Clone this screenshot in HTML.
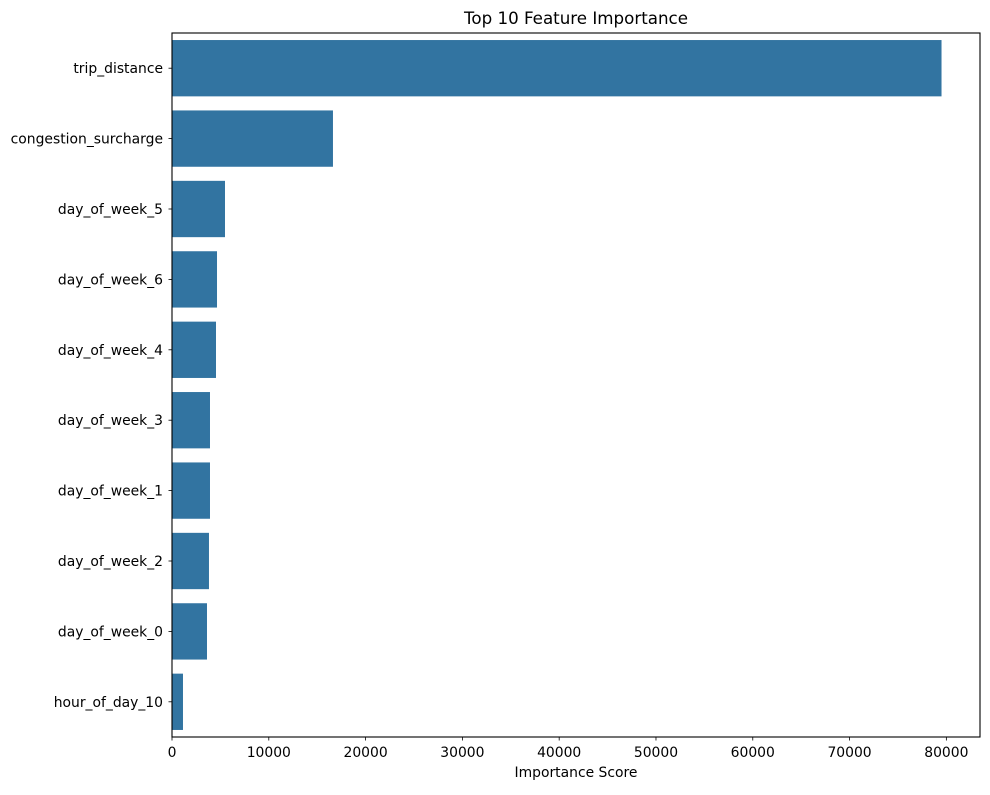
<!DOCTYPE html>
<html><head><meta charset="utf-8"><style>
body{margin:0;background:#fff;font-family:"Liberation Sans","DejaVu Sans",sans-serif;}
svg text{font-family:"DejaVu Sans","Liberation Sans",sans-serif;font-size:13.9px;fill:#000;}
</style></head><body>
<svg id="chart" width="990" height="790" xmlns="http://www.w3.org/2000/svg">
<text x="576" y="24" text-anchor="middle" style="font-size:16.7px">Top 10 Feature Importance</text>
<text x="576" y="777" text-anchor="middle">Importance Score</text>
<g id="bars"></g><g id="axes"></g>
</svg>
<script>
const categories=["trip_distance","congestion_surcharge","day_of_week_5","day_of_week_6","day_of_week_4","day_of_week_3","day_of_week_1","day_of_week_2","day_of_week_0","hour_of_day_10"];
const values=[79500,16630,5475,4650,4545,3925,3925,3820,3615,1135];
const xTicks=[0,10000,20000,30000,40000,50000,60000,70000,80000];
const L=172,R=980,T=33,B=737;
const xmax=Math.max(...values)*1.05;
const x=v=>L+(v/xmax)*(R-L);
const band=(B-T)/categories.length;
const y=i=>T+band*i+band/2;
const ns="http://www.w3.org/2000/svg";
const bars=document.getElementById('bars'),axes=document.getElementById('axes');
function mk(t,a,p){const e=document.createElementNS(ns,t);for(const k in a)e.setAttribute(k,a[k]);p.appendChild(e);return e;}
categories.forEach((c,i)=>{
 const r=mk('rect',{x:L,y:y(i)-band*0.4,width:x(values[i])-L,height:band*0.8,fill:'#3274a1'},bars);
 
 
 mk('line',{x1:L-3.5,x2:L,y1:y(i),y2:y(i),stroke:'#000','stroke-width':0.8},axes);
 const t=mk('text',{x:L-9,y:y(i),'text-anchor':'end',dy:'0.36em'},axes);t.textContent=c;
 
 
});
xTicks.forEach(v=>{
 mk('line',{x1:x(v),x2:x(v),y1:B,y2:B+3.5,stroke:'#000','stroke-width':0.8},axes);
 const t=mk('text',{x:x(v),y:B+20},axes);t.textContent=v;
 t.setAttribute('text-anchor','middle');
 
 
});
const f=mk('rect',{x:L,y:T,width:R-L,height:B-T,fill:'none',stroke:'#000','stroke-width':1.1},axes);


</script>
</body></html>
